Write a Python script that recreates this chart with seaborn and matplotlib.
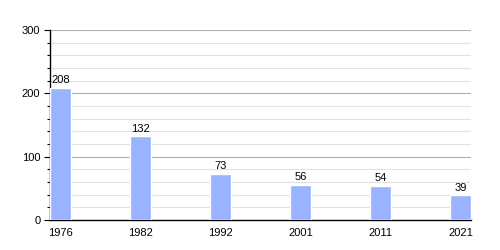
import matplotlib
matplotlib.use("Agg")
import matplotlib.pyplot as plt
import seaborn as sns
import pandas as pd
from matplotlib.ticker import MultipleLocator

years = ["1976", "1982", "1992", "2001", "2011", "2021"]
values = [208, 132, 73, 56, 54, 39]

sns.set_style("white")
plt.rcParams['font.family'] = ['Liberation Sans', 'DejaVu Sans']
plt.rcParams['text.color'] = 'black'
plt.rcParams['xtick.color'] = 'black'
plt.rcParams['ytick.color'] = 'black'

df = pd.DataFrame({"year": years, "value": values})

fig = plt.figure(figsize=(5, 2.5), dpi=100)
ax = fig.add_axes([0.1, 0.12, 0.842, 0.76])

sns.barplot(data=df, x="year", y="value", color="#99b3ff", saturation=1,
            width=0.26, ax=ax, zorder=3)

ax.set_xlim(-0.13, len(years) - 1 + 0.13)
ax.set_ylim(0, 300)
ax.yaxis.set_major_locator(MultipleLocator(100))
ax.yaxis.set_minor_locator(MultipleLocator(20))
ax.grid(which="major", axis="y", color="#b0b0b0", linewidth=0.8, zorder=0)
ax.grid(which="minor", axis="y", color="#e2e2e2", linewidth=0.8, zorder=0)
ax.set_axisbelow(True)

for s in ["top", "right"]:
    ax.spines[s].set_visible(False)
for s in ["left", "bottom"]:
    ax.spines[s].set_color("black")
    ax.spines[s].set_linewidth(1)

ax.tick_params(axis="y", which="major", left=True, length=4, width=0.8, labelsize=8, pad=3, color="black", labelcolor="black")
ax.tick_params(axis="y", which="minor", left=True, length=2.5, width=0.8, color="black")
ax.tick_params(axis="x", bottom=False, labelsize=8, pad=2, labelcolor="black")
ax.set_xlabel("")
ax.set_ylabel("")

for cont in ax.containers:
    ax.bar_label(cont, labels=[str(v) for v in values], fontsize=8, padding=2, color="black")

fig.savefig("out.png", dpi=100)
